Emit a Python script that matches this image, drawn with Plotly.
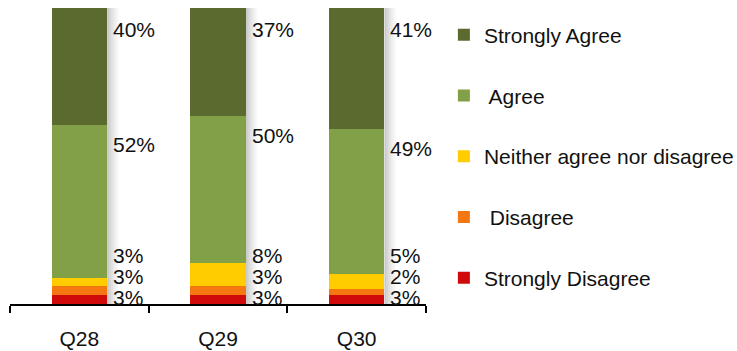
import plotly.graph_objects as go

# Survey responses per question (percent)
questions = ["Q28", "Q29", "Q30"]
strongly_disagree = [3, 3, 3]
disagree = [3, 3, 2]
neither = [3, 8, 5]
agree = [52, 50, 49]
strongly_agree = [40, 37, 41]

series = [
    ("Strongly Disagree", strongly_disagree, "#D00A0A"),
    (" Disagree", disagree, "#F4780F"),
    ("Neither agree nor disagree", neither, "#FFCC00"),
    (" Agree", agree, "#82A048"),
    ("Strongly Agree", strongly_agree, "#5B6B2F"),
]

FONT = "Arial, Liberation Sans, sans-serif"
BAR_W = 0.4

fig = go.Figure()
n_series = len(series)
for i, (name, vals, color) in enumerate(series):
    fig.add_trace(go.Bar(
        x=questions, y=vals, name=name, width=BAR_W,
        marker=dict(color=color, line=dict(width=0)),
        legendgroup=str(i), legendrank=n_series - i,
        hoverinfo="skip",
    ))

# soft drop shadow to the right of every bar
shapes = []
alphas = [0.32, 0.25, 0.18, 0.12, 0.07, 0.03]
step = 0.0145
for ci in range(len(questions)):
    for k, a in enumerate(alphas):
        x0 = ci + BAR_W / 2 + k * step
        shapes.append(dict(
            type="rect", xref="x", yref="y", layer="below",
            x0=x0, x1=x0 + step, y0=-1.5, y1=100,
            fillcolor=f"rgba(90,90,90,{a})", line=dict(width=0),
        ))

# value labels beside each bar
annotations = []
for ci in range(len(questions)):
    sd, d, n, a, sa = (strongly_disagree[ci], disagree[ci], neither[ci],
                       agree[ci], strongly_agree[ci])
    total = sd + d + n + a + sa
    xr = ci + BAR_W / 2
    top_agree = (sd + d + n + a) / total * 100
    items = [
        (sa, 100, -21),
        (a, top_agree, -19),
        (n, 0, 49),
        (d, 0, 28),
        (sd, 0, 7),
    ]
    for val, yv, ys in items:
        annotations.append(dict(
            x=xr, y=yv, xref="x", yref="y", text=f"{val}%",
            showarrow=False, xanchor="left", yanchor="middle",
            xshift=4, yshift=ys,
            font=dict(family=FONT, size=21, color="#111111"),
        ))

fig.update_layout(
    width=737, height=351,
    margin=dict(l=10, r=311, t=8, b=47, autoexpand=False),
    barmode="stack", barnorm="percent",
    paper_bgcolor="white", plot_bgcolor="white",
    font=dict(family=FONT, size=21, color="#111111"),
    shapes=shapes, annotations=annotations,
    showlegend=True,
    legend=dict(
        x=1.043, y=0.978, xanchor="left", yanchor="top",
        traceorder="grouped", tracegroupgap=30.5,
        font=dict(family=FONT, size=21, color="#111111"),
        itemwidth=30, bgcolor="rgba(0,0,0,0)",
    ),
    xaxis=dict(
        range=[-0.5, 2.5], showgrid=False, zeroline=False,
        showline=True, linecolor="black", linewidth=2,
        ticks="outside", tickson="boundaries", ticklen=7,
        tickcolor="black", tickwidth=2,
        tickfont=dict(family=FONT, size=21, color="#111111"),
        ticklabelstandoff=15,
    ),
    yaxis=dict(range=[0, 100], visible=False, showgrid=False),
)

fig.write_html("out.html")
